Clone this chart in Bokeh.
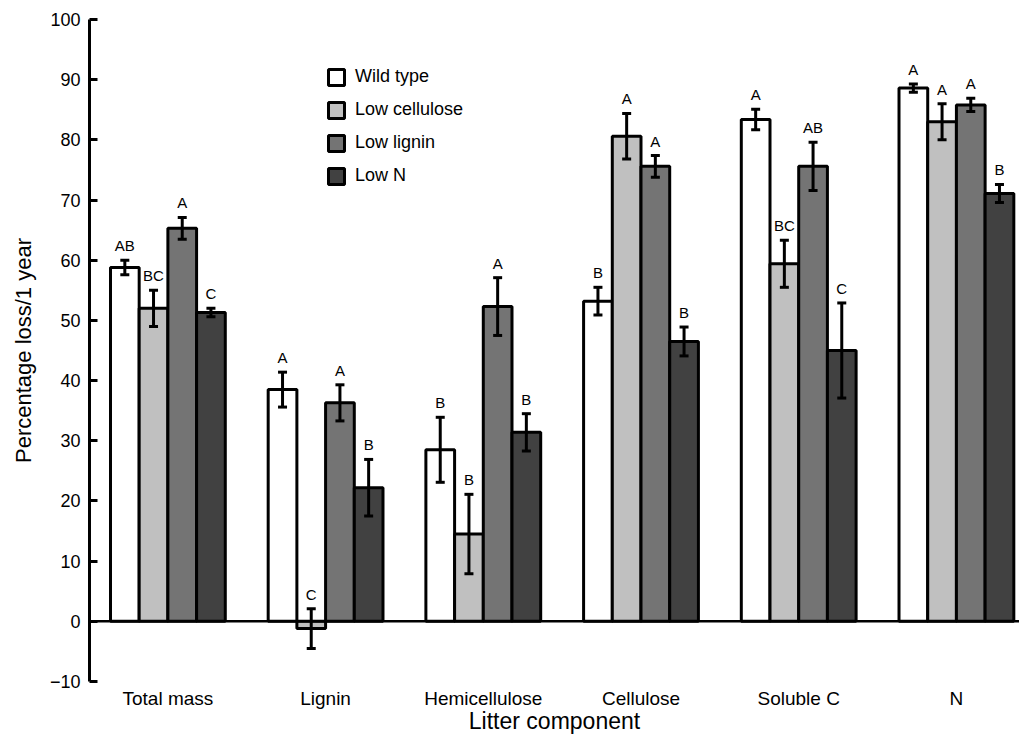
from bokeh.plotting import figure
from bokeh.models import ColumnDataSource, FixedTicker, Span, Whisker, TeeHead
from bokeh.core.properties import value
from bokeh.embed import file_html
from bokeh.resources import INLINE

components = ["Total mass", "Lignin", "Hemicellulose", "Cellulose", "Soluble C", "N"]
series = ["Wild type", "Low cellulose", "Low lignin", "Low N"]

wild_type = [58.8, 38.5, 28.5, 53.2, 83.4, 88.6]
wild_type_err = [1.2, 2.9, 5.4, 2.3, 1.7, 0.7]
wild_type_letters = ["AB", "A", "B", "B", "A", "A"]

low_cellulose = [52.0, -1.2, 14.5, 80.6, 59.4, 83.0]
low_cellulose_err = [3.0, 3.3, 6.6, 3.8, 3.9, 3.0]
low_cellulose_letters = ["BC", "C", "B", "A", "BC", "A"]

low_lignin = [65.3, 36.3, 52.3, 75.6, 75.6, 85.8]
low_lignin_err = [1.8, 3.0, 4.8, 1.8, 4.0, 1.1]
low_lignin_letters = ["A", "A", "A", "A", "AB", "A"]

low_n = [51.3, 22.2, 31.4, 46.5, 45.0, 71.1]
low_n_err = [0.7, 4.7, 3.1, 2.4, 7.9, 1.5]
low_n_letters = ["C", "B", "B", "B", "C", "B"]

y_ticks = list(range(-10, 101, 10))

colors = ["#ffffff", "#c0c0c0", "#747474", "#414141"]
FONT = "Liberation Sans"

p = figure(width=1019, height=738, output_backend="svg", toolbar_location=None,
           x_range=(-0.497, 5.40), y_range=(-10, 100),
           min_border_left=89, min_border_top=19, min_border_bottom=57, min_border_right=0)
p.outline_line_color = None
p.xgrid.visible = False
p.ygrid.visible = False
p.background_fill_color = "white"

bw = 0.182
all_vals = [wild_type, low_cellulose, low_lignin, low_n]
all_errs = [wild_type_err, low_cellulose_err, low_lignin_err, low_n_err]
all_letters = [wild_type_letters, low_cellulose_letters, low_lignin_letters, low_n_letters]

for j, name in enumerate(series):
    xs = [i + (j - 1.5) * bw for i in range(len(components))]
    vals = all_vals[j]
    errs = all_errs[j]
    src = ColumnDataSource(dict(
        x=xs, top=vals,
        up=[v + e for v, e in zip(vals, errs)],
        lo=[v - e for v, e in zip(vals, errs)],
        letters=all_letters[j],
    ))
    p.vbar(x="x", top="top", bottom=0, width=bw, source=src,
           fill_color=colors[j], line_color="black", line_width=3,
           legend_label=name)
    w = Whisker(source=src, base="x", upper="up", lower="lo",
                line_color="black", line_width=3,
                upper_head=TeeHead(size=9, line_width=3, line_color="black"),
                lower_head=TeeHead(size=9, line_width=3, line_color="black"))
    w.level = "overlay"
    p.add_layout(w)
    p.text(x="x", y="up", text="letters", source=src, y_offset=-6,
           text_align="center", text_baseline="bottom",
           text_font=value(FONT), text_font_size="15px", text_color="black")

zero = Span(location=0, dimension="width", line_color="black", line_width=2.5)
p.add_layout(zero)

# y axis
ya = p.yaxis[0]
ya.ticker = FixedTicker(ticks=y_ticks)
ya.major_label_overrides = {-10: "\u221210"}
ya.axis_line_width = 3
ya.major_tick_line_width = 3
ya.major_tick_in = 8
ya.major_tick_out = 0
ya.minor_tick_line_color = None
ya.major_label_standoff = 9
ya.major_label_text_font = FONT
ya.major_label_text_font_size = "18px"
ya.major_label_text_color = "black"
ya.axis_label = "Percentage loss/1 year"
ya.axis_label_text_font = FONT
ya.axis_label_text_font_size = "22px"
ya.axis_label_text_font_style = "normal"
ya.axis_label_text_color = "black"
ya.axis_label_standoff = 11

# x axis
xa = p.xaxis[0]
xa.ticker = FixedTicker(ticks=list(range(len(components))))
xa.major_label_overrides = {i: c for i, c in enumerate(components)}
xa.axis_line_color = None
xa.major_tick_line_color = None
xa.minor_tick_line_color = None
xa.major_label_standoff = 0
xa.major_label_text_font = FONT
xa.major_label_text_font_size = "19px"
xa.major_label_text_color = "black"
xa.axis_label = "Litter component"
xa.axis_label_text_font = FONT
xa.axis_label_text_font_size = "23px"
xa.axis_label_text_font_style = "normal"
xa.axis_label_text_color = "black"
xa.axis_label_standoff = -4

lg = p.legend[0]
lg.location = (237, 495)
lg.padding = 0
lg.margin = 0
lg.spacing = 12
lg.glyph_width = 20
lg.glyph_height = 20
lg.label_height = 20
lg.label_standoff = 9
lg.label_text_font = FONT
lg.label_text_font_size = "18px"
lg.label_text_color = "black"
lg.border_line_color = None
lg.background_fill_alpha = 0

open("out.html", "w").write(file_html(p, INLINE))
